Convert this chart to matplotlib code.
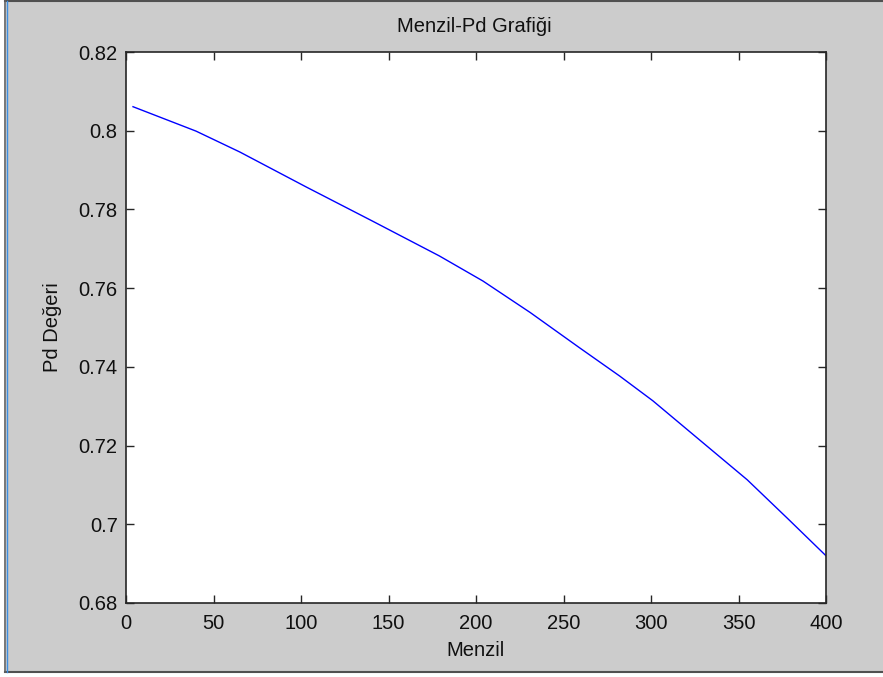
import matplotlib
matplotlib.use("Agg")
import matplotlib.pyplot as plt
from matplotlib.patches import Rectangle
from matplotlib.lines import Line2D

# Range (Menzil) vs. probability of detection (Pd)
menzil = [4, 40, 65, 103, 141, 179, 204, 231, 259, 282, 301, 330, 355, 378, 400]
pd_degeri = [0.8061, 0.7999, 0.7946, 0.7857, 0.7770, 0.7682, 0.7618, 0.7538,
             0.7449, 0.7377, 0.7314, 0.7206, 0.7113, 0.7015, 0.6920]

x_ticks = [0, 50, 100, 150, 200, 250, 300, 350, 400]
y_ticks = [0.68, 0.70, 0.72, 0.74, 0.76, 0.78, 0.80, 0.82]
y_tick_labels = ["0.68", "0.7", "0.72", "0.74", "0.76", "0.78", "0.8", "0.82"]

plt.rcParams["font.family"] = ["Liberation Sans", "DejaVu Sans"]

W, H = 883, 677
fig = plt.figure(figsize=(W / 100, H / 100), dpi=100, facecolor="white")

def fx(px):
    return px / W

def fy(py):
    return 1 - py / H

# grey window panel with its frame, kept behind the axes
fig.patches.append(Rectangle((fx(6), fy(672)), 1 - fx(6), fy(1) - fy(672),
                             transform=fig.transFigure, facecolor="#cccccc",
                             edgecolor="none", zorder=-10))
frame = [
    ([fx(5), 1], [fy(1), fy(1)], "#505050", 1.5),
    ([fx(5), 1], [fy(672), fy(672)], "#505050", 1.5),
    ([fx(5), fx(5)], [fy(1), fy(672)], "#606060", 1.2),
    ([fx(7), fx(7)], [fy(1), fy(672)], "#3c8ee0", 1.0),
]
for xs, ys, c, lw in frame:
    fig.lines.append(Line2D(xs, ys, transform=fig.transFigure, color=c, lw=lw, zorder=-5))

ax = fig.add_axes([fx(126), fy(603), fx(826) - fx(126), fy(52) - fy(603)])
ax.set_zorder(5)
ax.set_facecolor("white")
ax.plot(menzil, pd_degeri, color="#0000ff", lw=1.0)

ax.set_xlim(0, 400)
ax.set_ylim(0.68, 0.82)
ax.set_xticks(x_ticks)
ax.set_yticks(y_ticks)
ax.set_yticklabels(y_tick_labels)
ax.tick_params(direction="in", length=6, width=1.0, color="#262626",
               top=True, right=True, labelsize=14.5, labelcolor="#101010")
ax.tick_params(axis="x", pad=8)
ax.tick_params(axis="y", pad=6)
for sp in ax.spines.values():
    sp.set_color("#262626")
    sp.set_linewidth(1.2)

ax.set_xlabel("Menzil", fontsize=14.5, color="#101010", va="center")
ax.xaxis.set_label_coords(0.5, (603 - 651) / 551)
ax.set_ylabel("Pd Değeri", fontsize=14.5, color="#101010", va="center")
ax.yaxis.set_label_coords((53 - 126) / 700, 0.5)

fig.text(fx(474), fy(27), "Menzil-Pd Grafiği", fontsize=14.5, color="#101010",
         ha="center", va="center", zorder=6)

fig.savefig("out.png", dpi=100, facecolor=fig.get_facecolor())
